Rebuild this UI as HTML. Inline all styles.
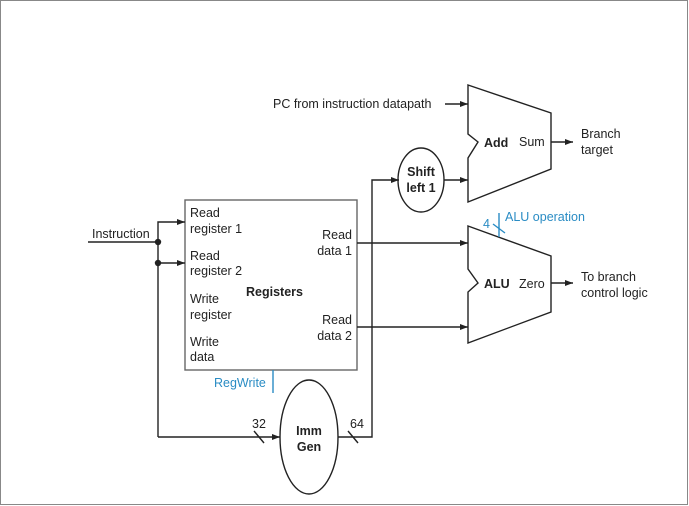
<!DOCTYPE html>
<html><head><style>
body{margin:0;background:#fff}
svg{display:block}
text{font-family:"Liberation Sans",Arial,sans-serif;font-size:12.5px;fill:#222}
.b{font-weight:bold}
.bl{fill:#2a8cc4}
</style></head><body>
<svg width="689" height="506" viewBox="0 0 689 506">
<defs><marker id="a" markerWidth="8" markerHeight="6" refX="8" refY="3" orient="auto" markerUnits="userSpaceOnUse"><path d="M0,0 L8,3 L0,6z" fill="#222"/></marker></defs>
<rect x="0.5" y="0.5" width="687" height="504" fill="none" stroke="#888"/>
<g stroke="#222" stroke-width="1.4" fill="none">
<rect x="185" y="200" width="172" height="170" stroke="#666"/>
<line x1="88" y1="242" x2="158" y2="242"/>
<polyline points="158,437 158,222 185,222" marker-end="url(#a)"/>
<line x1="158" y1="263" x2="185" y2="263" marker-end="url(#a)"/>
<line x1="158" y1="437" x2="280" y2="437" marker-end="url(#a)"/>
<line x1="254" y1="431" x2="264" y2="443"/>
<ellipse cx="309" cy="437" rx="29" ry="57"/>
<polyline points="338,437 372,437 372,180 399,180" marker-end="url(#a)"/>
<line x1="348" y1="431" x2="358" y2="443"/>
<ellipse cx="421" cy="180" rx="23" ry="32"/>
<line x1="444" y1="180" x2="468" y2="180" marker-end="url(#a)"/>
<line x1="445" y1="104" x2="468" y2="104" marker-end="url(#a)"/>
<polygon points="468,85 551,113 551,169 468,202 468,158 478,142 468,134"/>
<line x1="551" y1="142" x2="573" y2="142" marker-end="url(#a)"/>
<polygon points="468,226 551,256 551,312 468,343 468,292 478,283 468,269"/>
<line x1="357" y1="243" x2="468" y2="243" marker-end="url(#a)"/>
<line x1="357" y1="327" x2="468" y2="327" marker-end="url(#a)"/>
<line x1="551" y1="283" x2="573" y2="283" marker-end="url(#a)"/>
</g>
<circle cx="158" cy="242" r="3.2" fill="#222"/>
<circle cx="158" cy="263" r="3.2" fill="#222"/>
<g stroke="#2a8cc4" stroke-width="1.4">
<line x1="273" y1="370" x2="273" y2="393"/>
<line x1="499" y1="213" x2="499" y2="237"/>
<line x1="493" y1="224" x2="505" y2="233"/>
</g>
<text x="92" y="238">Instruction</text>
<text x="190" y="217">Read</text><text x="190" y="233">register 1</text>
<text x="190" y="260">Read</text><text x="190" y="275">register 2</text>
<text x="190" y="303">Write</text><text x="190" y="319">register</text>
<text x="190" y="346">Write</text><text x="190" y="361">data</text>
<text x="246" y="296" class="b">Registers</text>
<text x="352" y="239" text-anchor="end">Read</text><text x="352" y="255" text-anchor="end">data 1</text>
<text x="352" y="324" text-anchor="end">Read</text><text x="352" y="340" text-anchor="end">data 2</text>
<text x="214" y="387" class="bl">RegWrite</text>
<text x="252" y="428">32</text><text x="350" y="428">64</text>
<text x="309" y="435" class="b" text-anchor="middle">Imm</text>
<text x="309" y="451" class="b" text-anchor="middle">Gen</text>
<text x="421" y="176" class="b" text-anchor="middle">Shift</text>
<text x="421" y="192" class="b" text-anchor="middle">left 1</text>
<text x="273" y="108">PC from instruction datapath</text>
<text x="484" y="147" class="b">Add</text><text x="519" y="146">Sum</text>
<text x="581" y="138">Branch</text><text x="581" y="154">target</text>
<text x="484" y="288" class="b">ALU</text><text x="519" y="288">Zero</text>
<text x="581" y="281">To branch</text><text x="581" y="297">control logic</text>
<text x="483" y="228" class="bl">4</text>
<text x="505" y="221" class="bl">ALU operation</text>
</svg>
</body></html>
